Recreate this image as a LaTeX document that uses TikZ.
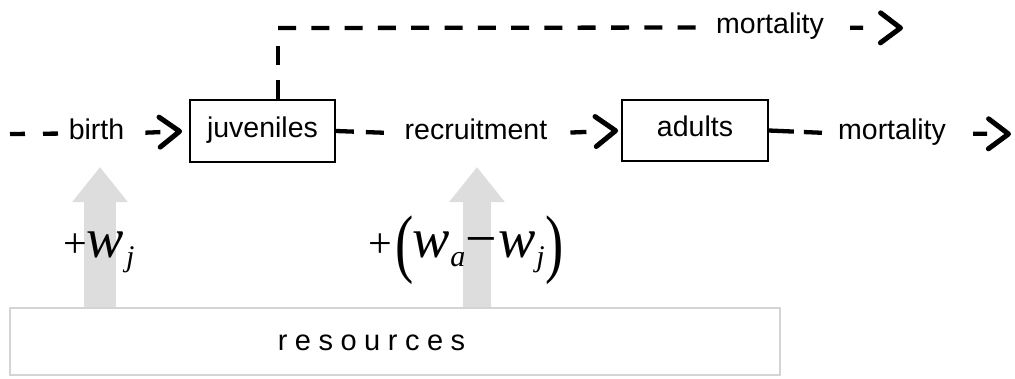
\documentclass[tikz,border=0pt]{standalone}
\usepackage{fontspec}
\usepackage{graphicx}
\setmainfont{Liberation Sans}
\newfontfamily\tms{Liberation Serif}
\usetikzlibrary{arrows.meta}
\definecolor{resgray}{RGB}{221,221,221}
\definecolor{resedge}{RGB}{212,212,212}
\newcommand{\bigw}{{\fontsize{56}{56}\selectfont\itshape w}}
\newcommand{\subs}[1]{\raisebox{-9pt}{\fontsize{30}{30}\selectfont\itshape #1}}
\newcommand{\bigpar}[1]{\raisebox{-11pt}{\scalebox{0.72}[1]{\fontsize{76}{76}\selectfont #1}}}
\newcommand{\bigplus}{{\fontsize{42}{42}\selectfont +}}
\begin{document}
\begin{tikzpicture}[x=1pt,y=-1pt,
  lbl/.style={font=\fontsize{28.5}{30}\selectfont, inner sep=0pt, anchor=base, text height=20pt, text depth=7pt},
  popbox/.style={draw, line width=1.8pt, font=\fontsize{28.5}{30}\selectfont, inner sep=0pt, text height=20pt, text depth=7pt},
  dsh/.style={line width=4.3pt},
  tip/.style={-{Straight Barb[length=20pt,width=30pt,line width=5pt,round]}},
  resarrow/.style={resgray, line width=32pt, -{Triangle[length=35pt,width=56pt,line width=0pt]}},
  mth/.style={inner sep=0pt, anchor=base west, font=\tms},
]
\useasboundingbox (0,0) rectangle (1015,379);

% resources box
\node[draw=resedge, line width=1.4pt, minimum width=770pt, minimum height=67pt, inner sep=0pt] (res) at (395,341.5) {};
\node[font=\fontsize{29}{30}\selectfont, inner sep=0pt, anchor=base] (restext) at (371.5,351)
  {r\kern7.5pt e\kern7.5pt s\kern7.5pt o\kern7.5pt u\kern7.5pt r\kern7.5pt c\kern7.5pt e\kern7.5pt s};

% main row nodes
\coordinate (src) at (10,134);
\node[lbl] (birth) at (96.5,140) {birth};
\node[popbox, minimum width=145pt, minimum height=62pt] (juv) at (262.5,131) {juveniles};
\node[lbl] (recr) at (476,140) {recruitment};
\node[popbox, minimum width=146pt, minimum height=61pt] (adu) at (695,130.5) {adults};
\node[lbl] (mort) at (892,140) {mortality};
\coordinate (sink) at (1011,134);

% top row
\coordinate (branch) at (278,28);
\node[lbl] (mtop) at (770,34) {mortality};
\coordinate (sinktop) at (903,28);

% resource arrows
\draw[resarrow, shorten >=20pt] ([xshift=3.5pt]res.north -| birth) -- ([xshift=3.5pt]birth.south);
\draw[resarrow, line width=28pt, shorten >=20pt] ([xshift=1pt]res.north -| recr) -- ([xshift=1pt]recr.south);

% flows
\draw[dsh, dash pattern=on 15pt off 18pt] (src) -- (birth.west);
\draw[dsh, tip, dash pattern=on 15pt off 40pt, shorten <=21pt, shorten >=7pt] (birth.east) -- (juv.west);
\draw[dsh, dash pattern=on 18pt off 12pt, shorten >=19pt] (juv.east) -- (recr.west);
\draw[dsh, tip, dash pattern=on 16pt off 40pt, shorten <=23pt, shorten >=3pt] (recr.east) -- (adu.west);
\draw[dsh, dash pattern=on 25pt off 10pt, shorten >=16pt] (adu.east) -- (mort.west);
\draw[dsh, tip, dash pattern=on 14pt off 40pt, shorten <=27pt] (mort.east) -- (sink);

\draw[dsh, dash pattern=on 19pt off 15pt, shorten >=17pt] (juv.north -| branch) -- (branch);
\draw[dsh, dash pattern=on 18pt off 15.3pt, shorten >=17pt] (branch) -- (mtop.west);
\draw[dsh, tip, dash pattern=on 13pt off 40pt, shorten <=26pt] (mtop.east) -- (sinktop);

% math labels
\node[mth] (mwj) at (63,258) {\bigplus\bigw\kern2pt\subs{j}};
\node[mth] (mwa) at (368,258) {\bigplus\kern4pt\bigpar{(}\kern-2pt\bigw\kern1pt\subs{a}{\fontsize{56}{56}\selectfont −}\kern1pt\bigw\kern1pt\subs{j}\kern1pt\bigpar{)}};
\end{tikzpicture}
\end{document}
